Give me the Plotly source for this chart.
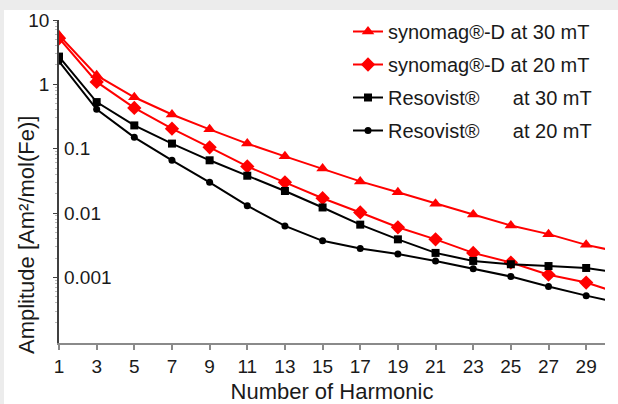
import plotly.graph_objects as go
import math

# ---- data ----
harmonics = [1, 3, 5, 7, 9, 11, 13, 15, 17, 19, 21, 23, 25, 27, 29, 31]
synomag_30mT = [5.8, 1.38, 0.63, 0.34, 0.20, 0.12, 0.076, 0.049, 0.031, 0.021,
                0.014, 0.0095, 0.0064, 0.0047, 0.0032, 0.0024]
synomag_20mT = [5.2, 1.09, 0.43, 0.205, 0.105, 0.053, 0.030, 0.017, 0.0102, 0.0060,
                0.0039, 0.0024, 0.0017, 0.0011, 0.00083, 0.00054]
resovist_30mT = [2.7, 0.53, 0.23, 0.12, 0.066, 0.038, 0.022, 0.0122, 0.0066, 0.0039,
                 0.0024, 0.0018, 0.0016, 0.0015, 0.0014, 0.00115]
resovist_20mT = [2.28, 0.41, 0.15, 0.066, 0.030, 0.013, 0.0063, 0.0037, 0.0028, 0.0023,
                 0.0018, 0.00136, 0.00103, 0.00072, 0.00052, 0.00039]

series_names = ["synomag®-D at 30 mT",
                "synomag®-D at 20 mT",
                "Resovist®\u00a0\u00a0\u00a0\u00a0\u00a0\u00a0at 30 mT",
                "Resovist®\u00a0\u00a0\u00a0\u00a0\u00a0\u00a0at 20 mT"]
x_tick_vals = list(range(1, 30, 2))
x_tick_labels = [str(h) for h in x_tick_vals]
y_outer_ticks = [10, 1]
y_outer_labels = ["10", "1"]
y_inner_ticks = [0.1, 0.01, 0.001]
y_inner_labels = ["0.1", "0.01", "0.001"]

FONT = "Liberation Sans, Arial, sans-serif"
styles = [
    ("#ff0000", "triangle-up", 11),
    ("#ff0000", "diamond", 11),
    ("#000000", "square", 8),
    ("#000000", "circle", 7),
]
values = [synomag_30mT, synomag_20mT, resovist_30mT, resovist_20mT]

fig = go.Figure()
for i, (name, vals, (color, sym, size)) in enumerate(zip(series_names, values, styles)):
    fig.add_trace(go.Scatter(
        x=harmonics, y=vals, name=name, mode="lines+markers",
        line=dict(color=color, width=2),
        marker=dict(symbol=sym, size=size, color=color),
        legendgroup=f"g{i}",
    ))

W, H = 618, 404
L, R, T, B = 59, 13, 20, 61
pw = W - L - R
ph = H - T - B
GRAY = "#ececec"

axis_font = dict(family=FONT, size=19, color="#1a1a1a")

annotations = [dict(
    text="Amplitude [Am²/mol(Fe)]", textangle=-90,
    xref="paper", yref="paper",
    x=(26 - L) / pw, y=(H - B - 235) / ph,
    xanchor="center", yanchor="middle", showarrow=False,
    font=dict(family=FONT, size=22, color="#1a1a1a"),
)]
for v, lab in zip(y_inner_ticks, y_inner_labels):
    annotations.append(dict(
        text=lab, xref="paper", yref="y", x=3 / pw, y=math.log10(v),
        xanchor="left", yanchor="middle", showarrow=False,
        font=axis_font,
    ))

fig.update_layout(
    width=W, height=H,
    margin=dict(l=L, r=R, t=T, b=B, autoexpand=False),
    paper_bgcolor="white",
    plot_bgcolor="rgba(0,0,0,0)",
    font=dict(family=FONT, color="#1a1a1a"),
    showlegend=True,
    legend=dict(
        x=(348 - L) / pw, xanchor="left",
        y=1 + 8 / ph, yanchor="top",
        bgcolor="rgba(0,0,0,0)",
        font=dict(family=FONT, size=20, color="#1a1a1a"),
        traceorder="grouped", tracegroupgap=4,
        itemwidth=30,
    ),
    xaxis=dict(
        range=[1, 30], tickvals=x_tick_vals, ticktext=x_tick_labels,
        showgrid=False, zeroline=False, automargin=False,
        showline=True, linecolor="#8a8a8a", linewidth=1.5,
        ticks="outside", ticklen=5, tickcolor="#8a8a8a", tickwidth=1.5,
        tickfont=axis_font,
        title=dict(text="Number of Harmonic", font=dict(family=FONT, size=22, color="#1a1a1a"),
                   standoff=8),
    ),
    xaxis2=dict(
        range=[1, 30], overlaying="x", anchor="y", side="bottom",
        tickvals=x_tick_vals, showticklabels=False, automargin=False,
        ticks="inside", ticklen=7, tickcolor="#8a8a8a", tickwidth=1.5,
        showgrid=False, zeroline=False, showline=False,
    ),
    yaxis=dict(
        type="log", range=[-4.02, 1],
        tickvals=y_outer_ticks + y_inner_ticks,
        ticktext=y_outer_labels + [""] * len(y_inner_ticks),
        showgrid=False, zeroline=False, automargin=False,
        showline=True, linecolor="#404040", linewidth=1.5,
        ticks="outside", ticklen=4, tickcolor="#404040",
        tickfont=axis_font,
        minor=dict(ticks="outside", ticklen=2, tickcolor="#bbbbbb",
                   tickvals=[m * 10 ** e for e in range(-4, 1) for m in range(2, 10)]),
    ),
    shapes=[
        dict(type="rect", xref="paper", yref="paper", layer="below",
             x0=-(L + 2) / pw, x1=1 + (R + 2) / pw,
             y0=1 + (T - 10) / ph, y1=1 + (T + 2) / ph,
             fillcolor=GRAY, line=dict(width=0)),
        dict(type="rect", xref="paper", yref="paper", layer="below",
             x0=-(L + 2) / pw, x1=(4 - L) / pw,
             y0=-(B + 2) / ph, y1=1 + (T + 2) / ph,
             fillcolor=GRAY, line=dict(width=0)),
    ],
    annotations=annotations,
)

fig.write_html("out.html", config={"displayModeBar": False},
               post_script="document.body.style.margin='0';document.body.style.overflow='hidden';")
